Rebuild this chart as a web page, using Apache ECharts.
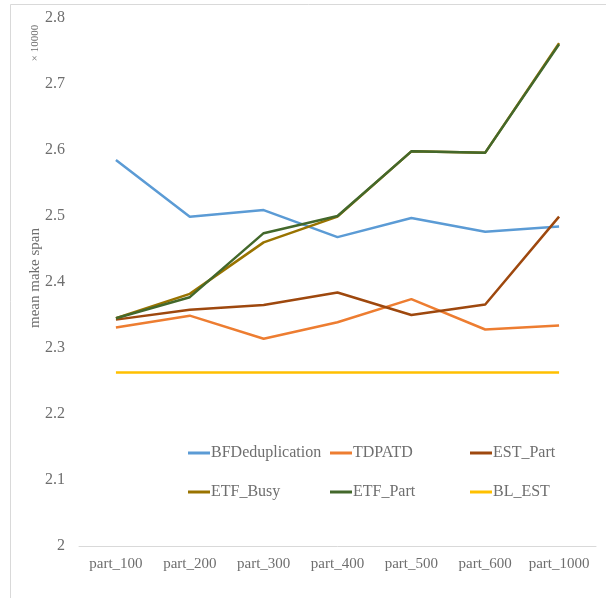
<!DOCTYPE html>
<html>
<head>
<meta charset="utf-8">
<script src="https://cdn.jsdelivr.net/npm/echarts@6/dist/echarts.min.js"></script>
<style>
  html, body { margin: 0; padding: 0; background: #fff; }
  #chart { width: 606px; height: 598px; }
</style>
</head>
<body>
<div id="chart"></div>
<script>
// Partition sizes on the x axis
const categories = ['part_100', 'part_200', 'part_300', 'part_400', 'part_500', 'part_600', 'part_1000'];

// Mean make span per strategy
const bfDeduplication = [25850, 24990, 25090, 24680, 24970, 24760, 24840];
const tdpatd          = [23310, 23490, 23140, 23390, 23740, 23280, 23340];
const estPart         = [23430, 23580, 23650, 23840, 23500, 23660, 24990];
const etfBusy         = [23450, 23820, 24600, 24990, 25980, 25960, 27620];
const etfPart         = [23450, 23770, 24740, 25000, 25980, 25960, 27600];
const blEst           = [22630, 22630, 22630, 22630, 22630, 22630, 22630];

const seriesNames = ['BFDeduplication', 'TDPATD', 'EST_Part', 'ETF_Busy', 'ETF_Part', 'BL_EST'];
const seriesData  = [bfDeduplication, tdpatd, estPart, etfBusy, etfPart, blEst];
const colors      = ['#5B9BD5', '#ED7D31', '#9E480E', '#997300', '#43682B', '#FFC000'];

const FONT = '"Liberation Serif", "Times New Roman", serif';
const GREY = '#6E6E6E';

// Legend laid out as a 3 x 2 block
const legendSlots = [
  { left: 188, top: 445 }, { left: 330, top: 445 }, { left: 470, top: 445 },
  { left: 188, top: 484 }, { left: 330, top: 484 }, { left: 470, top: 484 }
];

const chart = echarts.init(document.getElementById('chart'), null, { renderer: 'canvas' });

chart.setOption({
  animation: false,
  backgroundColor: '#fff',
  color: colors,
  grid: { left: 79, right: 10, top: 18, bottom: 52, containLabel: false },
  xAxis: {
    type: 'category',
    data: categories,
    boundaryGap: true,
    axisLine: { show: true, lineStyle: { color: '#D9D9D9', width: 1 } },
    axisTick: { show: false },
    axisLabel: {
      color: GREY, fontFamily: FONT, fontSize: 15, margin: 11,
      interval: 0, hideOverlap: false
    }
  },
  yAxis: {
    type: 'value',
    min: 20000,
    max: 28000,
    interval: 1000,
    axisLine: { show: false },
    axisTick: { show: false },
    splitLine: { show: false },
    axisLabel: {
      color: GREY, fontFamily: FONT, fontSize: 16, margin: 14,
      formatter: v => String(v / 10000)
    }
  },
  legend: seriesNames.map((name, i) => ({
    data: [name],
    left: legendSlots[i].left,
    top: legendSlots[i].top,
    icon: 'rect',
    itemWidth: 22,
    itemHeight: 3,
    padding: 0,
    selectedMode: false,
    textStyle: { color: GREY, fontFamily: FONT, fontSize: 16, padding: [0, 0, 0, -4] }
  })),
  graphic: [
    {
      type: 'rect',
      shape: { x: 10.5, y: 4.5, width: 620, height: 620 },
      style: { fill: 'none', stroke: '#D9D9D9', lineWidth: 1 },
      silent: true
    },
    {
      type: 'text',
      x: 35, y: 278,
      rotation: Math.PI / 2,
      style: {
        text: 'mean make span', fill: GREY, font: '15px ' + FONT,
        align: 'center', verticalAlign: 'middle'
      }
    },
    {
      type: 'text',
      x: 35, y: 43,
      rotation: Math.PI / 2,
      style: {
        text: '× 10000', fill: GREY, font: '11px ' + FONT,
        align: 'center', verticalAlign: 'middle'
      }
    }
  ],
  series: seriesNames.map((name, i) => ({
    name: name,
    type: 'line',
    data: seriesData[i],
    symbol: 'none',
    lineStyle: { width: 2.5, color: colors[i] },
    itemStyle: { color: colors[i] },
    z: 2 + i
  }))
});
</script>
</body>
</html>
